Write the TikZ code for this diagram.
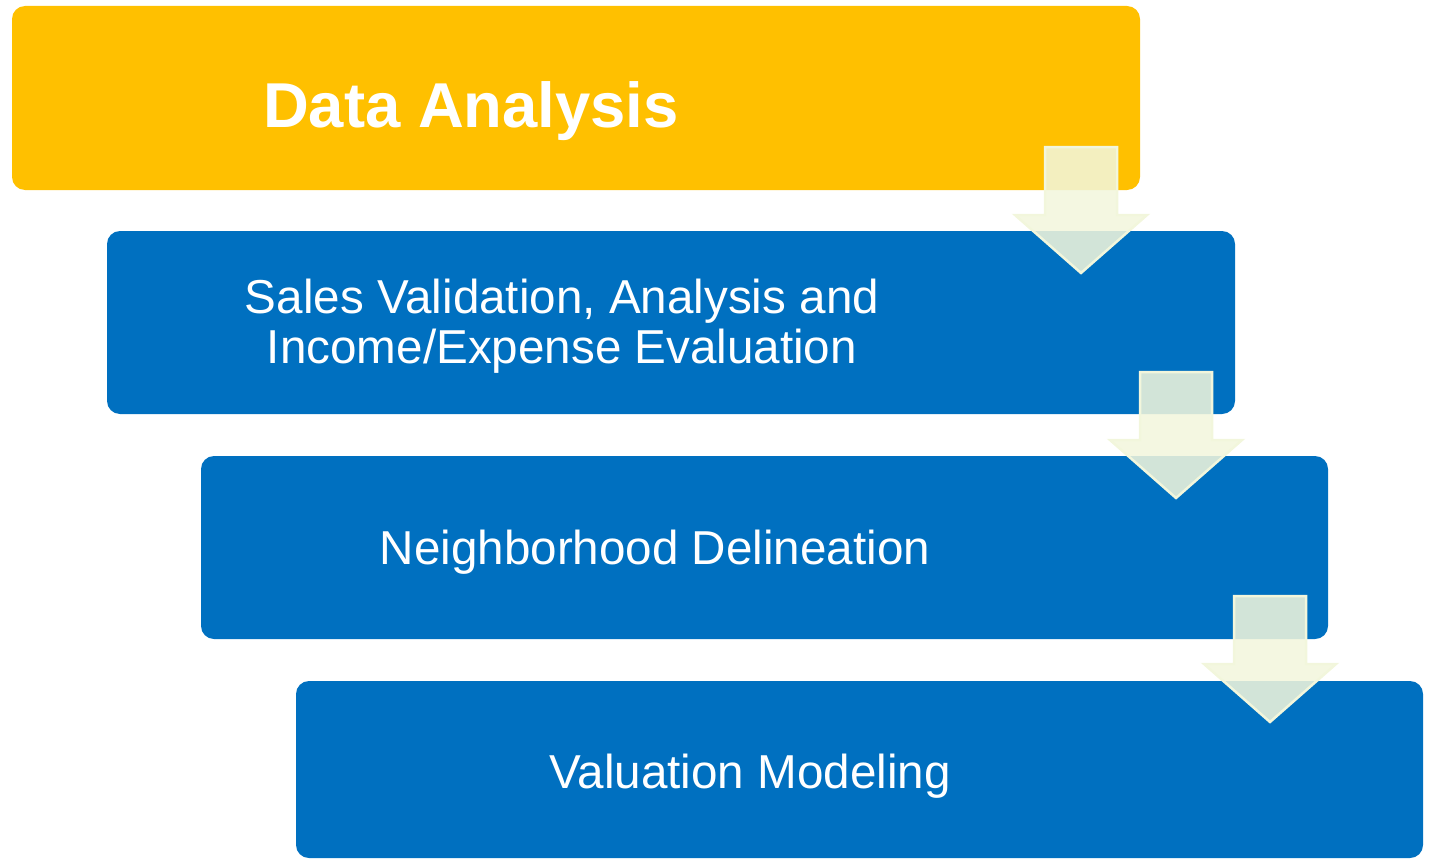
\documentclass[tikz,border=0pt]{standalone}
\usepackage{fontspec}
\setmainfont{Liberation Sans}
\definecolor{gold}{RGB}{255,192,0}
\definecolor{stepblue}{RGB}{0,112,192}
\definecolor{arrowfill}{RGB}{242,246,220}
\begin{document}
\begin{tikzpicture}[x=1pt,y=-1pt,
  stagebox/.style={rounded corners=13pt},
  stagetext/.style={text=white,anchor=base,inner sep=0pt,align=center,font=\fontsize{47.6}{49.5}\selectfont},
  downarrow/.style={fill=arrowfill,fill opacity=0.87,draw=arrowfill,draw opacity=1,line width=2.5pt,line join=miter}]
\useasboundingbox (0,0) rectangle (1430,859);
% boxes
\fill[gold,stagebox] (12,6) rectangle (1140,190);
\fill[stepblue,stagebox] (107,231) rectangle (1235,414);
\fill[stepblue,stagebox] (201,456) rectangle (1328,639);
\fill[stepblue,stagebox] (296,681) rectangle (1423,858);
% labels
\node[stagetext,font=\fontsize{63.4}{70}\selectfont\bfseries] (t1) at (471,127) {Data Analysis};
\node[stagetext] (t2) at (562,363) {Sales Validation, Analysis and\\Income/Expense Evaluation};
\node[stagetext] (t3) at (655,564) {Neighborhood Delineation};
\node[stagetext] (t4) at (750,788) {Valuation Modeling};
% arrows
\foreach \dx/\dy in {0/0,95/225,189/449}{
  \draw[downarrow] (1045+\dx,147+\dy) -- (1117+\dx,147+\dy) -- (1117+\dx,215+\dy) -- (1147+\dx,215+\dy)
     -- (1081+\dx,273+\dy) -- (1015+\dx,215+\dy) -- (1045+\dx,215+\dy) -- cycle;
}
\end{tikzpicture}
\end{document}
